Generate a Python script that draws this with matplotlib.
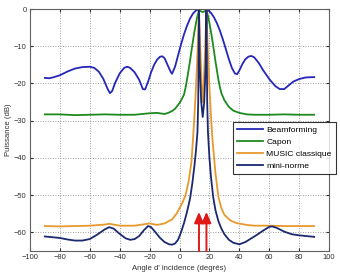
import matplotlib
matplotlib.use("Agg")
import matplotlib.pyplot as plt

plt.rcParams['font.family'] = ['Liberation Sans', 'DejaVu Sans']

# ---------------- data ----------------
bf_x = [-90, -87, -84, -80, -75, -70, -65, -60, -57, -54, -51, -48, -46.5, -45, -43, -40,
        -37, -35, -33, -30, -27, -24.5, -23, -21, -19, -17, -15, -13, -11.5, -10, -8, -6,
        -5, -3, -1, 1, 3, 5, 7, 9, 11, 13, 15, 17, 19, 21, 23, 25, 27, 29, 31, 33, 35, 37,
        38.5, 40, 42, 44, 46, 48, 50, 53, 56, 60, 64, 67, 70, 73, 76, 80, 84, 88, 90]
bf_y = [-18.5, -18.6, -18.3, -17.8, -16.8, -16.0, -15.6, -15.5, -15.8, -16.8, -18.7, -21.5, -22.6, -22.0, -19.8, -17.3,
        -15.8, -15.5, -15.8, -17.0, -19.0, -21.5, -21.6, -19.5, -17.0, -15.0, -13.6, -12.8, -12.7, -13.2, -15.0, -16.8,
        -17.4, -15.5, -12.5, -9.5, -6.8, -4.5, -2.6, -1.2, -0.4, -0.05, 0.0, -0.05, -0.3, -1.0, -2.2, -3.8, -5.8, -8.2, -10.8, -13.5, -15.8, -17.3,
        -17.5, -16.5, -14.8, -13.5, -12.8, -12.6, -13.0, -14.5, -16.5, -18.8, -20.7, -21.5, -21.5, -20.5, -19.5, -18.8, -18.4, -18.3, -18.3]

capon_x = [-90, -80, -70, -60, -50, -40, -30, -25, -20, -15, -10, -7, -5, -3, -1, 1, 3, 4, 5, 6, 7, 8,
           9, 10, 11, 12, 13, 15.5, 18, 19, 20, 21, 22, 23, 24, 25, 26, 27, 28, 30, 33, 36, 40, 45,
           50, 60, 70, 80, 90]
capon_y = [-28.3, -28.3, -28.5, -28.4, -28.3, -28.4, -28.4, -28.2, -28.0, -27.9, -28.2, -27.8, -27.4, -26.8, -25.8, -24.6, -23.0, -21.2, -19.0, -16.5, -14.0, -11.2,
           -8.5, -6.0, -3.8, -1.8, -0.4, -0.8, -0.4, -1.8, -3.8, -6.0, -8.5, -11.2, -14.0, -16.5, -19.0, -21.0, -22.6, -24.5, -26.3, -27.3, -27.9, -28.3,
           -28.4, -28.4, -28.3, -28.4, -28.4]

music_x = [-90, -80, -70, -60, -50, -47, -40, -30, -20, -15, -10, -5, -2, 0, 2, 4, 6, 8, 9, 10,
           11, 12, 13, 14, 15, 15.5, 16, 17, 18, 19, 20, 21, 22, 24, 26, 28, 30, 34, 38, 45,
           50, 60, 70, 80, 90]
music_y = [-58.3, -58.4, -58.3, -58.2, -57.9, -57.7, -58.2, -58.2, -57.6, -58.0, -57.6, -56.5, -55.0, -53.5, -52.0, -50.0, -46.5, -41.0, -35.0, -28.5,
           -21.0, -12.0, 0.0, -12.0, -22.0, -25.0, -22.0, -12.0, 0.0, -12.0, -21.0, -28.5, -35.0, -44.0, -50.5, -53.5, -55.3, -56.8, -57.5, -58.0,
           -58.2, -58.2, -58.3, -58.3, -58.3]

mn_x = [-90, -85, -80, -75, -70, -65, -60, -55, -50, -47, -44, -40, -36, -33, -30, -27, -24, -21, -19, -16,
        -13, -10, -7, -5, -3, -1, 1, 3, 5, 7, 8.5, 10, 11, 12, 12.5, 13, 13.5, 14.5, 15.5, 16.5,
        17.5, 18, 18.5, 19, 20, 21, 22.5, 24, 26, 28, 30, 33, 36, 40, 44, 48, 52, 56, 60, 62,
        65, 70, 75, 80, 85, 90]
mn_y = [-61.1, -61.3, -61.5, -61.9, -62.2, -62.2, -61.8, -60.6, -59.2, -58.6, -59.0, -60.4, -61.6, -62.0, -61.8, -61.0, -59.5, -58.3, -58.6, -60.0,
        -61.5, -62.6, -63.2, -63.3, -63.0, -62.0, -60.0, -57.5, -54.5, -51.0, -47.0, -42.0, -38.0, -33.0, -25.0, 0.0, -15.0, -25.0, -29.0, -25.0,
        -15.0, 0.0, -25.0, -33.0, -40.0, -45.0, -50.5, -54.0, -57.0, -59.0, -60.5, -62.0, -62.8, -63.2, -62.6, -61.6, -60.6, -59.5, -58.5, -58.4,
        -58.8, -59.8, -60.5, -60.8, -61.0, -61.2]

sources = [13, 18]
labels = ['Beamforming', 'Capon', 'MUSIC classique', 'mini-norme']
colors = ['#2626b8', '#1e8a1e', '#e8992e', '#1b2a70']

xticks = list(range(-100, 101, 20))
yticks = list(range(-60, 1, 10))

# ---------------- figure ----------------
fig = plt.figure(figsize=(3.4, 2.74), dpi=100)
ax = fig.add_axes([0.088, 0.084, 0.880, 0.883])

for (xs, ys), lab, c in zip([(bf_x, bf_y), (capon_x, capon_y), (music_x, music_y), (mn_x, mn_y)],
                            labels, colors):
    ax.plot(xs, ys, color=c, lw=1.3, label=lab)

for s in sources:
    ax.annotate('', xy=(s, -54.5), xytext=(s, -65),
                arrowprops=dict(arrowstyle='-|>,head_width=0.28,head_length=0.65',
                                color='#e01818', lw=1.4, shrinkA=0, shrinkB=0))

ax.set_xlim(-100, 100)
ax.set_ylim(-65, 0)
ax.set_xticks(xticks)
ax.set_yticks(yticks)
ax.grid(True, linestyle=(0, (1, 2)), color='#808080', lw=0.6)
ax.tick_params(direction='in', length=2, labelsize=5.4, colors='#303030', pad=2.5,
               top=True, right=True)
for sp in ax.spines.values():
    sp.set_color('#606060')
    sp.set_linewidth(0.8)

ax.set_xlabel("Angle d' incidence (degrés)", fontsize=5.6, labelpad=2.5, color='#303030')
ax.set_ylabel("Puissance (dB)", fontsize=5.6, labelpad=1, color='#303030')

leg = ax.legend(loc='upper left', bbox_to_anchor=(0.685, 0.555), bbox_transform=fig.transFigure,
                fontsize=6.1, frameon=True, fancybox=False, edgecolor='black',
                handlelength=3.1, handletextpad=0.4, borderpad=0.45, labelspacing=0.5,
                borderaxespad=0)
leg.get_frame().set_linewidth(0.8)

fig.savefig('out.png', dpi=100)
